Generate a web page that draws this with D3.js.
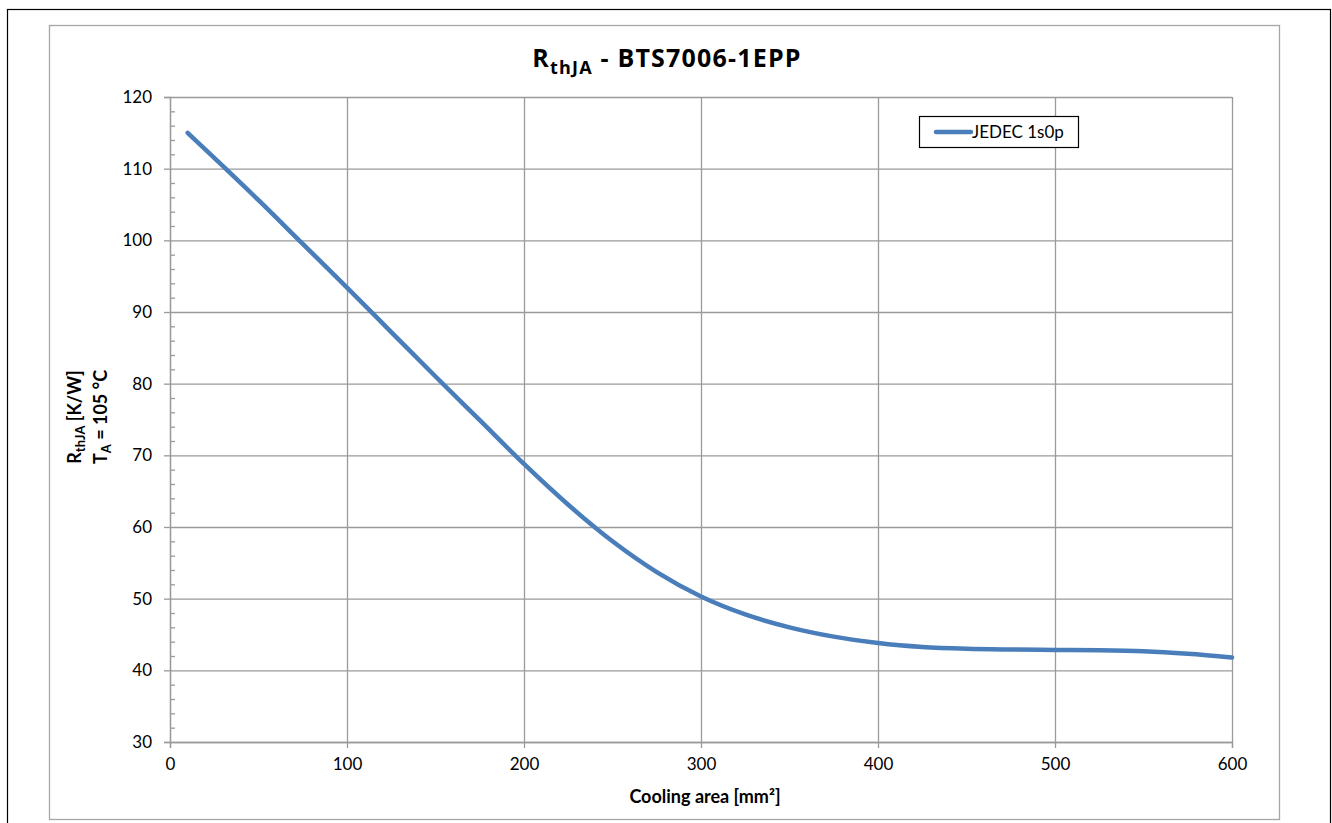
<!DOCTYPE html>
<html>
<head>
<meta charset="utf-8">
<script src="https://cdn.jsdelivr.net/npm/d3@7"></script>
<style>
  body { margin: 0; background: #fff; }
  text { font-family: Lato, "Open Sans", sans-serif; fill: #000; }
</style>
</head>
<body>
<div id="chart"></div>
<script>
// cooling area [mm²] and RthJA [K/W]
var areas = [10, 25, 50, 75, 100, 125, 150, 175, 200, 225, 250, 275, 300,
  325, 350, 375, 400, 425, 450, 475, 500, 525, 550, 575, 600];
var rthja = [115.0, 111.5, 105.6, 99.5, 93.4, 87.2, 81.0, 74.9, 68.8, 63.1, 58.0, 53.7, 50.3,
  47.8, 46.0, 44.7, 43.8, 43.25, 43.0, 42.9, 42.85, 42.8, 42.65, 42.3, 41.8];
var seriesName = "JEDEC 1s0p";
var xTicks = [0, 100, 200, 300, 400, 500, 600];
var yTicks = [30, 40, 50, 60, 70, 80, 90, 100, 110, 120];

var svgWidth = 1332;
var svgHeight = 823;

var margin = { top: 97, right: 100, bottom: 81, left: 170 };
var width = svgWidth - margin.left - margin.right;
var height = svgHeight - margin.top - margin.bottom;

var svg = d3.select("#chart")
  .append("svg")
  .attr("width", svgWidth)
  .attr("height", svgHeight);

// outer frames
svg.append("rect")
  .attr("x", 7.5).attr("y", 9.5)
  .attr("width", 1323).attr("height", 830)
  .attr("fill", "none").attr("stroke", "#000").attr("stroke-width", 1.2);
svg.append("rect")
  .attr("x", 49.5).attr("y", 25.5)
  .attr("width", 1230).attr("height", 794)
  .attr("fill", "none").attr("stroke", "#a6a6a6").attr("stroke-width", 1.3);

var g = svg.append("g")
  .attr("transform", `translate(${margin.left}, ${margin.top})`);

var x = d3.scaleLinear().domain([0, 600]).range([0, width]);
var y = d3.scaleLinear().domain([30, 120]).range([height, 0]);

// grid
g.append("g")
  .attr("class", "grid")
  .call(d3.axisBottom(x).tickValues(xTicks).tickSize(height).tickFormat(""))
  .call(s => s.select(".domain").remove());
g.append("g")
  .attr("class", "grid")
  .call(d3.axisLeft(y).tickValues(yTicks).tickSize(-width).tickFormat(""))
  .call(s => s.select(".domain").remove());
g.selectAll(".grid line")
  .attr("stroke", "#9a9a9a").attr("stroke-width", 1.3);

// minor y ticks (inside)
var minorY = d3.range(30, 120, 2).filter(v => v % 10 != 0);
g.append("g")
  .call(d3.axisLeft(y).tickValues(minorY).tickSize(-5).tickFormat(""))
  .call(s => s.select(".domain").remove())
  .selectAll("line").attr("stroke", "#9a9a9a").attr("stroke-width", 1.3);

// axes
var xAxis = g.append("g")
  .attr("transform", `translate(0, ${height})`)
  .call(d3.axisBottom(x).tickValues(xTicks).tickSize(6).tickPadding(10));
var yAxis = g.append("g")
  .call(d3.axisLeft(y).tickValues(yTicks).tickSize(6).tickPadding(12));
[xAxis, yAxis].forEach(a => {
  a.select(".domain").attr("stroke", "#9a9a9a").attr("stroke-width", 1.3);
  a.selectAll("line").attr("stroke", "#9a9a9a").attr("stroke-width", 1.3);
  a.selectAll("text").attr("font-size", 17).attr("fill", "#000")
    .style("font-family", "Lato, sans-serif");
});

// curve
var data = areas.map((a, i) => ({ a: a, r: rthja[i] }));
var line = d3.line()
  .x(d => x(d.a))
  .y(d => y(d.r))
  .curve(d3.curveMonotoneX);
g.append("path")
  .datum(data)
  .attr("d", line)
  .attr("fill", "none")
  .attr("stroke", "#4a7ebb")
  .attr("stroke-width", 4.5)
  .attr("stroke-linecap", "round");

// title
var title = svg.append("text")
  .attr("x", 667).attr("y", 67)
  .attr("text-anchor", "middle")
  .style("font-family", "'Open Sans', sans-serif")
  .style("letter-spacing", "1.2px")
  .attr("font-size", 25).attr("font-weight", "bold");
title.append("tspan").text("R");
title.append("tspan").attr("font-size", 18).attr("dy", 7).text("thJA");
title.append("tspan").attr("dy", -7).text(" - BTS7006-1EPP");

// x label
svg.append("text")
  .attr("x", 705).attr("y", 803)
  .attr("text-anchor", "middle")
  .attr("font-size", 18).attr("font-weight", "bold")
  .text("Cooling area [mm²]");

// y label, two lines
var yl = svg.append("g")
  .attr("transform", `translate(0, 417) rotate(-90)`);
var l1 = yl.append("text")
  .attr("x", 0).attr("y", 81)
  .attr("text-anchor", "middle")
  .attr("font-size", 18).attr("font-weight", "bold");
l1.append("tspan").text("R");
l1.append("tspan").attr("font-size", 13).attr("dy", 4).text("thJA");
l1.append("tspan").attr("dy", -4).text(" [K/W]");
var l2 = yl.append("text")
  .attr("x", 0).attr("y", 107)
  .attr("text-anchor", "middle")
  .attr("font-size", 18).attr("font-weight", "bold");
l2.append("tspan").text("T");
l2.append("tspan").attr("font-size", 13).attr("dy", 4).text("A");
l2.append("tspan").attr("dy", -4).text(" = 105 °C");

// legend
var lg = svg.append("g").attr("transform", "translate(919, 116)");
lg.append("rect")
  .attr("x", 0.5).attr("y", 0.5)
  .attr("width", 159).attr("height", 31)
  .attr("fill", "#fff").attr("stroke", "#000").attr("stroke-width", 1.2);
lg.append("line")
  .attr("x1", 17).attr("x2", 52).attr("y1", 16).attr("y2", 16)
  .attr("stroke", "#4a7ebb").attr("stroke-width", 4.5)
  .attr("stroke-linecap", "round");
lg.append("text")
  .attr("x", 53).attr("y", 22)
  .attr("font-size", 17)
  .text(seriesName);
</script>
</body>
</html>
